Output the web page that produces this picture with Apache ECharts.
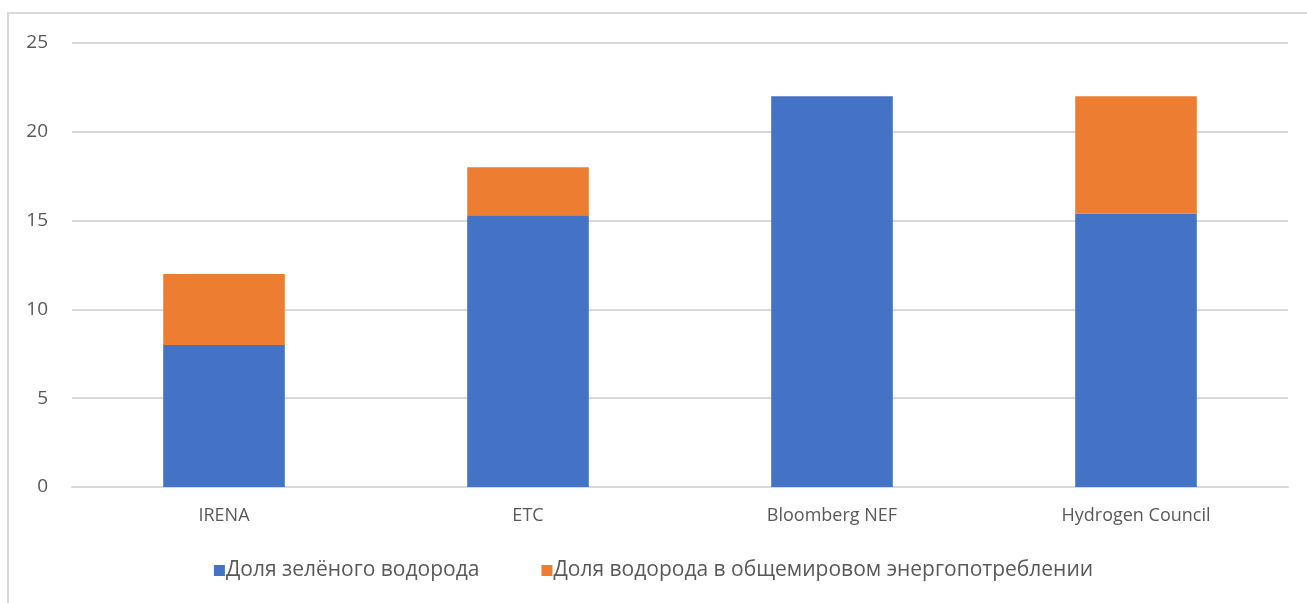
<!DOCTYPE html>
<html lang="ru">
<head>
<meta charset="UTF-8">
<title>Доля водорода</title>
<script src="https://cdn.jsdelivr.net/npm/echarts@6/dist/echarts.min.js"></script>
<style>
  html, body { margin: 0; padding: 0; background: #fff; }
  #chart { width: 1307px; height: 603px; }
</style>
</head>
<body>
<div id="chart"></div>
<script>
// данные прогноза
var categories = ['IRENA', 'ETC', 'Bloomberg NEF', 'Hydrogen Council'];
var greenShare = [8, 15.3, 22, 15.4];
var totalShare = [4, 2.7, 0, 6.6];
var seriesNames = ['Доля зелёного водорода', 'Доля водорода в общемировом энергопотреблении'];
var yTicks = [0, 5, 10, 15, 20, 25];

var font = '"Open Sans", "Noto Sans", sans-serif';
var myChart = echarts.init(document.getElementById('chart'));
var option = {
    animation: false,
    color: ['#4472C4', '#ED7D31'],
    graphic: [{
        type: 'rect',
        shape: { x: 8, y: 13, width: 1400, height: 700 },
        style: { fill: 'none', stroke: '#d9d9d9', lineWidth: 2 },
        silent: true
    }],
    grid: { left: 72, right: 19, top: 43, bottom: 116 },
    legend: {
        bottom: 17,
        left: 'center',
        itemWidth: 11,
        itemHeight: 11,
        itemGap: 62,
        icon: 'rect',
        textStyle: { color: '#595959', fontSize: 21, fontFamily: font, padding: [0, 0, 0, -4] },
        data: seriesNames
    },
    xAxis: {
        type: 'category',
        data: categories,
        axisLine: { lineStyle: { color: '#d9d9d9', width: 2 } },
        axisTick: { show: false },
        axisLabel: { color: '#595959', fontSize: 18, fontFamily: font, margin: 20 }
    },
    yAxis: {
        type: 'value',
        min: yTicks[0],
        max: yTicks[yTicks.length - 1],
        interval: 5,
        axisLine: { show: false },
        axisTick: { show: false },
        splitLine: { lineStyle: { color: '#d9d9d9', width: 2 } },
        axisLabel: { color: '#595959', fontSize: 19, fontFamily: font, margin: 24 }
    },
    series: [
        {
            name: seriesNames[0],
            type: 'bar',
            stack: 'total',
            barWidth: '40%',
            data: greenShare
        },
        {
            name: seriesNames[1],
            type: 'bar',
            stack: 'total',
            barWidth: '40%',
            data: totalShare
        }
    ]
};
myChart.setOption(option);
</script>
</body>
</html>
